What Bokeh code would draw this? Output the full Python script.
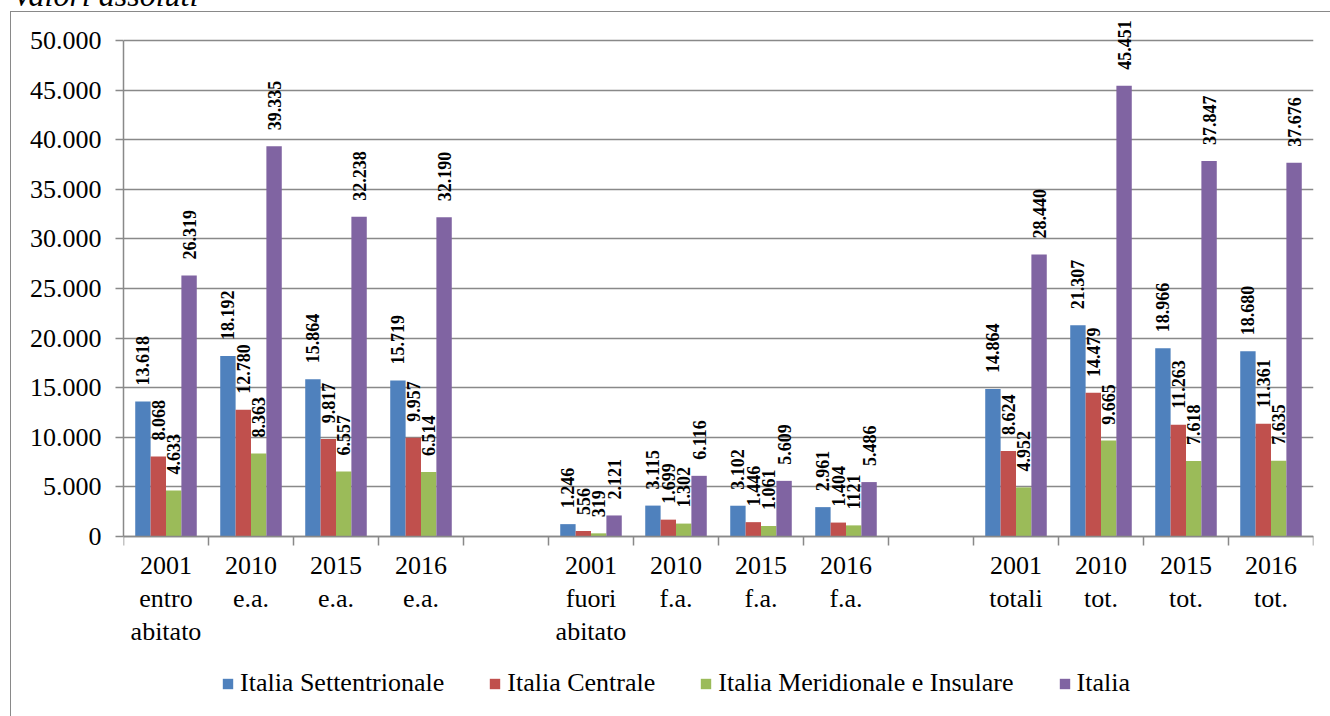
import math
from bokeh.plotting import figure
from bokeh.models import (ColumnDataSource, LabelSet, Legend, LegendItem,
                          FixedTicker, Range1d, InlineStyleSheet,
                          GlobalInlineStyleSheet)
from bokeh.embed import file_html
from bokeh.resources import INLINE

# ---------------- data ----------------
title_text = "Valori assoluti"
categories = ["2001\nentro\nabitato", "2010\ne.a.", "2015\ne.a.", "2016\ne.a.",
              "2001\nfuori\nabitato", "2010\nf.a.", "2015\nf.a.", "2016\nf.a.",
              "2001\ntotali", "2010\ntot.", "2015\ntot.", "2016\ntot."]
series_names = ["Italia Settentrionale", "Italia Centrale",
                "Italia Meridionale e Insulare", "Italia"]
nord = [13618, 18192, 15864, 15719, 1246, 3115, 3102, 2961, 14864, 21307, 18966, 18680]
centro = [8068, 12780, 9817, 9957, 556, 1699, 1446, 1404, 8624, 14479, 11263, 11361]
sud = [4633, 8363, 6557, 6514, 319, 1302, 1061, 1121, 4952, 9665, 7618, 7635]
italia = [26319, 39335, 32238, 32190, 2121, 6116, 5609, 5486, 28440, 45451, 37847, 37676]
label_overrides = {(2, 7): "1121"}   # as printed in the source
y_ticks = [0, 5000, 10000, 15000, 20000, 25000, 30000, 35000, 40000, 45000, 50000]
y_tick_labels = ["0", "5.000", "10.000", "15.000", "20.000", "25.000", "30.000",
                 "35.000", "40.000", "45.000", "50.000"]

# ---------------- style / layout ----------------
colors = ["#4F81BD", "#C0504D", "#9BBB59", "#8064A2"]
gray = "#898989"
FONT = "Liberation Serif"
BAR_W = 0.181
FRAME_TOP = 12          # page y of the frame top
FRAME_BOTTOM = 716      # page y of the frame bottom (window bottom)
ZERO_Y = 536            # page y of value 0
TOP_BORDER = 50         # room for the (partly cut) title above the frame
Y_MAX = 50000
PX_PER_UNIT = 496 / 50000


def fmt(v):
    return f"{v:,}".replace(",", ".")


slots = [g * 5 + k for g in range(3) for k in range(4)]  # two empty slots between groups
centers = [s + 0.5 for s in slots]
boundaries = list(range(15))

frame_h = FRAME_BOTTOM - FRAME_TOP
y_end = (ZERO_Y - FRAME_TOP) / PX_PER_UNIT
y_start = -(FRAME_BOTTOM - ZERO_Y) / PX_PER_UNIT
canvas_top = FRAME_TOP - TOP_BORDER

css_border = (":host::after{content:'';position:absolute;left:10px;top:%dpx;"
              "width:1340px;height:800px;border-left:1.5px solid %s;"
              "border-top:1.5px solid %s;pointer-events:none;}"
              % (11 - canvas_top, gray, gray))

p = figure(frame_width=1190, frame_height=frame_h, output_backend="svg",
           toolbar_location=None, x_range=Range1d(0, 14),
           y_range=Range1d(y_start, y_end),
           min_border_left=123, min_border_right=9, min_border_top=TOP_BORDER,
           min_border_bottom=0, title=title_text)
p.styles = {"margin-top": "%dpx" % canvas_top, "margin-left": "0px"}
p.stylesheets = [InlineStyleSheet(css=css_border),
                 GlobalInlineStyleSheet(css="html,body{overflow:hidden;}")]
p.outline_line_color = None
p.background_fill_color = "white"
p.border_fill_color = "white"

p.title.text_font = FONT
p.title.text_font_size = "32px"
p.title.text_font_style = "italic"
p.title.text_color = "black"
p.title.align = "left"
p.title.offset = 12 - 123
p.title.standoff = 0

# grid / axes
p.xgrid.visible = False
p.ygrid.ticker = FixedTicker(ticks=y_ticks)
p.ygrid.grid_line_color = gray
p.ygrid.grid_line_width = 1.5

p.yaxis.ticker = FixedTicker(ticks=y_ticks)
p.yaxis.bounds = (0, Y_MAX)
p.yaxis.major_label_overrides = {t: l for t, l in zip(y_ticks, y_tick_labels)}
p.yaxis.major_label_text_font = FONT
p.yaxis.major_label_text_font_size = "26px"
p.yaxis.major_label_text_color = "black"
p.yaxis.major_label_standoff = 14
p.yaxis.axis_line_color = gray
p.yaxis.axis_line_width = 1.5
p.yaxis.major_tick_line_color = gray
p.yaxis.major_tick_line_width = 1.5
p.yaxis.major_tick_in = 0
p.yaxis.major_tick_out = 8
p.yaxis.minor_tick_line_color = None

xax = p.xaxis[0]
xax.fixed_location = 0
xax.ticker = FixedTicker(ticks=centers, minor_ticks=boundaries)
xax.major_label_overrides = {c: t for c, t in zip(centers, categories)}
xax.major_label_text_font = FONT
xax.major_label_text_font_size = "26px"
xax.major_label_text_color = "black"
xax.major_label_text_line_height = 1.15
xax.major_label_standoff = 5
xax.axis_line_color = gray
xax.axis_line_width = 1.5
xax.major_tick_line_color = None
xax.major_tick_in = 0
xax.major_tick_out = 0
xax.minor_tick_line_color = gray
xax.minor_tick_line_width = 1.5
xax.minor_tick_in = 0
xax.minor_tick_out = 9

# bars + labels
all_series = [nord, centro, sud, italia]
items = []
for j, (vals, name, col) in enumerate(zip(all_series, series_names, colors)):
    xs = [c + (j - 1.5) * BAR_W for c in centers]
    labels = [label_overrides.get((j, i), fmt(v)) for i, v in enumerate(vals)]
    src = ColumnDataSource(dict(x=xs, top=vals, label=labels))
    r = p.vbar(x="x", top="top", bottom=0, width=BAR_W, source=src,
               fill_color=col, line_color=None)
    items.append(LegendItem(label=name, renderers=[r]))
    p.add_layout(LabelSet(x="x", y="top", text="label", source=src,
                          angle=math.pi / 2, text_align="left",
                          text_baseline="middle", y_offset=16,
                          text_font=FONT, text_font_style="bold",
                          text_font_size="18px", text_color="black"))

# legend (inside the extended frame, below the category labels)
legend = Legend(items=items, orientation="horizontal",
                location=(221 - 123, FRAME_BOTTOM - 698),
                glyph_width=13, glyph_height=13, label_standoff=6, spacing=44,
                padding=0, margin=0, border_line_alpha=0, background_fill_alpha=0,
                label_text_font=FONT, label_text_font_size="26px",
                label_text_color="black")
p.add_layout(legend, "center")

open("out.html", "w").write(file_html(p, INLINE))
